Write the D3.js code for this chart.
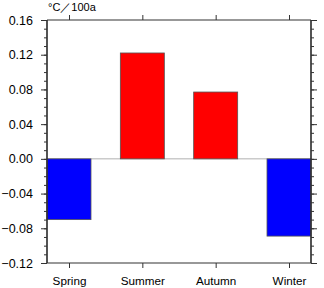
<!DOCTYPE html>
<html><head><meta charset="utf-8">
<script src="https://cdn.jsdelivr.net/npm/d3@7"></script>
<style>body{margin:0;background:#fff}svg{display:block}text{font-family:"Liberation Sans",Arial,Helvetica,sans-serif;fill:#000}</style>
</head><body>
<script>
const categories = ["Spring","Summer","Autumn","Winter"];
const values = [-0.070, 0.122, 0.077, -0.089];
const colors = ["#0000ff","#ff0000","#ff0000","#0000ff"];
const yTicks = [-0.12,-0.08,-0.04,0.00,0.04,0.08,0.12,0.16];
const unitLabel = "°C／100a";

const W=324,H=288, L=47, R=311, T=20, B=263;
const svg=d3.select("body").append("svg").attr("width",W).attr("height",H);
const x=d3.scaleLinear().domain([0.7,4.3]).range([L,R]);
const y=d3.scaleLinear().domain([-0.12,0.16]).range([B,T]);
const minor=d3.range(-12,17).map(d=>d/100);

// zero line
svg.append("line").attr("x1",L).attr("x2",R).attr("y1",y(0)).attr("y2",y(0)).attr("stroke","#b0b0b0").attr("stroke-width",1);

// bars
svg.selectAll("rect.bar").data(values).enter().append("rect").attr("class","bar")
 .attr("x",(d,i)=>x(i+1-0.3)).attr("width",(d,i)=>x(i+1+0.3)-x(i+1-0.3))
 .attr("y",d=>y(Math.max(0,d))).attr("height",d=>Math.abs(y(d)-y(0)))
 .attr("fill",(d,i)=>colors[i]).attr("stroke","#555").attr("stroke-width",0.8);

const ac="#333";
const gl=svg.append("g").attr("transform",`translate(${L},0)`)
 .call(d3.axisLeft(y).tickValues(minor).tickSize(3).tickFormat(""));
const gl2=svg.append("g").attr("transform",`translate(${L},0)`)
 .call(d3.axisLeft(y).tickValues(yTicks).tickSize(6).tickPadding(8).tickFormat(d3.format(".2f")));
const gr=svg.append("g").attr("transform",`translate(${R},0)`)
 .call(d3.axisRight(y).tickValues(minor).tickSize(3).tickFormat(""));
const gr2=svg.append("g").attr("transform",`translate(${R},0)`)
 .call(d3.axisRight(y).tickValues(yTicks).tickSize(6).tickFormat(""));
const gb=svg.append("g").attr("transform",`translate(0,${B})`)
 .call(d3.axisBottom(x).tickValues([1,2,3,4]).tickSize(5).tickPadding(9).tickFormat((d,i)=>categories[i]));
const gt=svg.append("g").attr("transform",`translate(0,${T})`)
 .call(d3.axisTop(x).tickValues([1,2,3,4]).tickSize(5).tickFormat(""));
svg.selectAll(".domain").attr("stroke",ac).attr("stroke-width",1.2);
svg.selectAll(".tick line").attr("stroke",ac);
gl2.selectAll(".tick text").style("font-size","12.5px").attr("fill","#000");
gb.selectAll(".tick text").style("font-size","11.7px").attr("fill","#000");
[gl,gl2,gr,gr2].forEach(g=>g.select(".domain").attr("d",`M0,${T}V${B}`));
[gb,gt].forEach(g=>g.select(".domain").attr("d",`M${L},0H${R}`));

svg.append("text").attr("x",48).attr("y",11).style("font-size","11px").text(unitLabel);
</script>
</body></html>
